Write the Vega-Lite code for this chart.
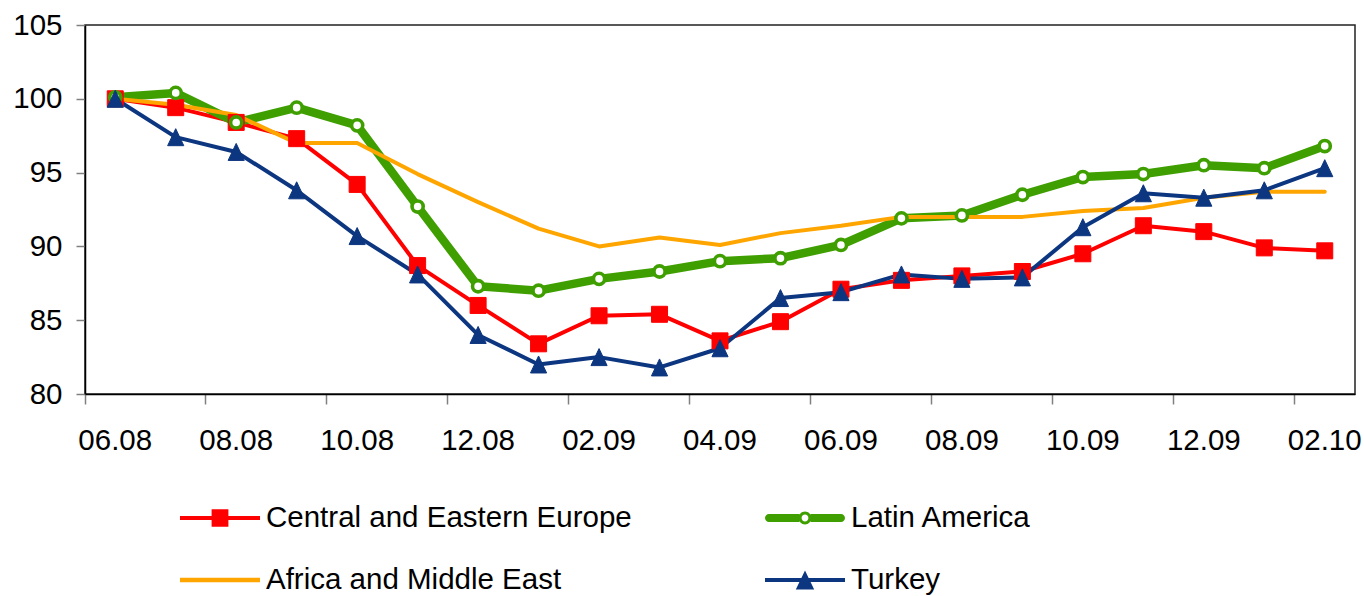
{
  "$schema": "https://vega.github.io/schema/vega-lite/v6.json",
  "width": 1270,
  "height": 369,
  "autosize": {"type": "none"},
  "padding": {"left": 85, "top": 25, "right": 9, "bottom": 202},
  "background": "white",
  "config": {
    "font": "Liberation Sans",
    "view": {"stroke": "#222222", "strokeWidth": 1.5},
    "axis": {"grid": false, "title": null, "labelColor": "#000000", "labelFontSize": 29.5, "labelFont": "Liberation Sans", "domainColor": "#000000", "domainWidth": 1.5, "tickColor": "#808080", "tickWidth": 1.5, "labelOverlap": false}
  },
  "datasets": {
    "main": [
      {"month": "06.08", "series": "Central and Eastern Europe", "value": 100.0},
      {"month": "07.08", "series": "Central and Eastern Europe", "value": 99.4},
      {"month": "08.08", "series": "Central and Eastern Europe", "value": 98.4},
      {"month": "09.08", "series": "Central and Eastern Europe", "value": 97.3},
      {"month": "10.08", "series": "Central and Eastern Europe", "value": 94.2},
      {"month": "11.08", "series": "Central and Eastern Europe", "value": 88.7},
      {"month": "12.08", "series": "Central and Eastern Europe", "value": 86.0},
      {"month": "01.09", "series": "Central and Eastern Europe", "value": 83.4},
      {"month": "02.09", "series": "Central and Eastern Europe", "value": 85.3},
      {"month": "03.09", "series": "Central and Eastern Europe", "value": 85.4},
      {"month": "04.09", "series": "Central and Eastern Europe", "value": 83.6},
      {"month": "05.09", "series": "Central and Eastern Europe", "value": 84.9},
      {"month": "06.09", "series": "Central and Eastern Europe", "value": 87.1},
      {"month": "07.09", "series": "Central and Eastern Europe", "value": 87.7},
      {"month": "08.09", "series": "Central and Eastern Europe", "value": 88.0},
      {"month": "09.09", "series": "Central and Eastern Europe", "value": 88.3},
      {"month": "10.09", "series": "Central and Eastern Europe", "value": 89.5},
      {"month": "11.09", "series": "Central and Eastern Europe", "value": 91.4},
      {"month": "12.09", "series": "Central and Eastern Europe", "value": 91.0},
      {"month": "01.10", "series": "Central and Eastern Europe", "value": 89.9},
      {"month": "02.10", "series": "Central and Eastern Europe", "value": 89.7},
      {"month": "06.08", "series": "Latin America", "value": 100.1},
      {"month": "07.08", "series": "Latin America", "value": 100.4},
      {"month": "08.08", "series": "Latin America", "value": 98.4},
      {"month": "09.08", "series": "Latin America", "value": 99.4},
      {"month": "10.08", "series": "Latin America", "value": 98.2},
      {"month": "11.08", "series": "Latin America", "value": 92.7},
      {"month": "12.08", "series": "Latin America", "value": 87.3},
      {"month": "01.09", "series": "Latin America", "value": 87.0},
      {"month": "02.09", "series": "Latin America", "value": 87.8},
      {"month": "03.09", "series": "Latin America", "value": 88.3},
      {"month": "04.09", "series": "Latin America", "value": 89.0},
      {"month": "05.09", "series": "Latin America", "value": 89.2},
      {"month": "06.09", "series": "Latin America", "value": 90.1},
      {"month": "07.09", "series": "Latin America", "value": 91.9},
      {"month": "08.09", "series": "Latin America", "value": 92.1},
      {"month": "09.09", "series": "Latin America", "value": 93.5},
      {"month": "10.09", "series": "Latin America", "value": 94.7},
      {"month": "11.09", "series": "Latin America", "value": 94.9},
      {"month": "12.09", "series": "Latin America", "value": 95.5},
      {"month": "01.10", "series": "Latin America", "value": 95.3},
      {"month": "02.10", "series": "Latin America", "value": 96.8},
      {"month": "06.08", "series": "Africa and Middle East", "value": 100.0},
      {"month": "07.08", "series": "Africa and Middle East", "value": 99.6},
      {"month": "08.08", "series": "Africa and Middle East", "value": 98.9},
      {"month": "09.08", "series": "Africa and Middle East", "value": 97.0},
      {"month": "10.08", "series": "Africa and Middle East", "value": 97.0},
      {"month": "11.08", "series": "Africa and Middle East", "value": 94.9},
      {"month": "12.08", "series": "Africa and Middle East", "value": 93.0},
      {"month": "01.09", "series": "Africa and Middle East", "value": 91.2},
      {"month": "02.09", "series": "Africa and Middle East", "value": 90.0},
      {"month": "03.09", "series": "Africa and Middle East", "value": 90.6},
      {"month": "04.09", "series": "Africa and Middle East", "value": 90.1},
      {"month": "05.09", "series": "Africa and Middle East", "value": 90.9},
      {"month": "06.09", "series": "Africa and Middle East", "value": 91.4},
      {"month": "07.09", "series": "Africa and Middle East", "value": 92.0},
      {"month": "08.09", "series": "Africa and Middle East", "value": 92.0},
      {"month": "09.09", "series": "Africa and Middle East", "value": 92.0},
      {"month": "10.09", "series": "Africa and Middle East", "value": 92.4},
      {"month": "11.09", "series": "Africa and Middle East", "value": 92.6},
      {"month": "12.09", "series": "Africa and Middle East", "value": 93.3},
      {"month": "01.10", "series": "Africa and Middle East", "value": 93.7},
      {"month": "02.10", "series": "Africa and Middle East", "value": 93.7},
      {"month": "06.08", "series": "Turkey", "value": 100.0},
      {"month": "07.08", "series": "Turkey", "value": 97.4},
      {"month": "08.08", "series": "Turkey", "value": 96.4},
      {"month": "09.08", "series": "Turkey", "value": 93.8},
      {"month": "10.08", "series": "Turkey", "value": 90.7},
      {"month": "11.08", "series": "Turkey", "value": 88.1},
      {"month": "12.08", "series": "Turkey", "value": 84.0},
      {"month": "01.09", "series": "Turkey", "value": 82.0},
      {"month": "02.09", "series": "Turkey", "value": 82.5},
      {"month": "03.09", "series": "Turkey", "value": 81.8},
      {"month": "04.09", "series": "Turkey", "value": 83.1},
      {"month": "05.09", "series": "Turkey", "value": 86.5},
      {"month": "06.09", "series": "Turkey", "value": 86.9},
      {"month": "07.09", "series": "Turkey", "value": 88.1},
      {"month": "08.09", "series": "Turkey", "value": 87.8},
      {"month": "09.09", "series": "Turkey", "value": 87.9},
      {"month": "10.09", "series": "Turkey", "value": 91.3},
      {"month": "11.09", "series": "Turkey", "value": 93.6},
      {"month": "12.09", "series": "Turkey", "value": 93.3},
      {"month": "01.10", "series": "Turkey", "value": 93.8},
      {"month": "02.10", "series": "Turkey", "value": 95.3}
    ]
  },
  "data": {"name": "main"},
  "encoding": {
    "x": {
      "field": "month", "type": "ordinal",
      "scale": {"type": "band", "paddingInner": 0, "paddingOuter": 0,
        "domain": ["06.08","07.08","08.08","09.08","10.08","11.08","12.08","01.09","02.09","03.09","04.09","05.09","06.09","07.09","08.09","09.09","10.09","11.09","12.09","01.10","02.10"]},
      "axis": {"values": ["06.08","08.08","10.08","12.08","02.09","04.09","06.09","08.09","10.09","12.09","02.10"], "labelAngle": 0, "bandPosition": 0, "tickSize": 10, "labelPadding": 22}
    },
    "y": {
      "field": "value", "type": "quantitative",
      "scale": {"domain": [80, 105], "nice": false, "zero": false},
      "axis": {"values": [80, 85, 90, 95, 100, 105], "tickSize": 9, "labelPadding": 14, "labelFlush": false}
    }
  },
  "layer": [
    {
      "mark": {"type": "line", "strokeJoin": "round", "strokeCap": "round"},
      "encoding": {
        "color": {
          "field": "series", "type": "nominal",
          "scale": {"domain": ["Central and Eastern Europe", "Africa and Middle East", "Latin America", "Turkey"], "range": ["#ff0000", "#ffa500", "#3f9f00", "#0d3680"]},
          "legend": {
            "orient": "none", "legendX": 95, "legendY": 473, "title": null, "columns": 2,
            "columnPadding": 133, "rowPadding": 22, "clipHeight": 40, "symbolSize": 6400,
            "labelFontSize": 29.5, "labelFont": "Liberation Sans", "labelColor": "#000000", "labelOffset": 6,
            "labelLimit": 1000, "padding": 0, "symbolStrokeWidth": 0, "symbolOpacity": 1,
            "encode": {
              "symbols": {
                "update": {
                  "shape": {"signal": "datum.value === 'Central and Eastern Europe' ? 'M-1,-0.05H1V0.05H-1Z M-0.21,-0.22H0.21V0.22H-0.21Z' : datum.value === 'Latin America' ? 'M-0.9,-0.1H-0.14V0.1H-0.9A0.1,0.1 0 0,1 -0.9,-0.1Z M0.14,-0.1H0.9A0.1,0.1 0 0,1 0.9,0.1H0.14Z M0.16,0A0.16,0.16 0 1,1 -0.16,0A0.16,0.16 0 1,1 0.16,0Z M0.085,0A0.085,0.085 0 1,0 -0.085,0A0.085,0.085 0 1,0 0.085,0Z' : datum.value === 'Africa and Middle East' ? 'M-1,-0.055H1V0.055H-1Z' : 'M-1,-0.05H1V0.05H-1Z M0,-0.24L0.23,0.24L-0.23,0.24Z'"},
                  "fill": {"scale": "color", "field": "value"},
                  "stroke": {"value": "transparent"},
                  "strokeWidth": {"value": 0},
                  "opacity": {"value": 1}
                }
              }
            }
          }
        },
        "strokeWidth": {"condition": {"test": "datum.series === 'Latin America'", "value": 8.5}, "value": 4}
      }
    },
    {
      "transform": [{"filter": "datum.series === 'Central and Eastern Europe'"}],
      "mark": {"type": "point", "shape": "square", "filled": true, "color": "#ff0000", "stroke": "#ff0000", "strokeWidth": 1, "size": 256, "opacity": 1}
    },
    {
      "transform": [{"filter": "datum.series === 'Latin America'"}],
      "mark": {"type": "point", "shape": "circle", "filled": false, "fill": "#ffffff", "stroke": "#3f9f00", "strokeWidth": 3.6, "size": 125, "opacity": 1, "fillOpacity": 1}
    },
    {
      "transform": [{"filter": "datum.series === 'Turkey'"}],
      "mark": {"type": "point", "shape": "M0,-1L0.95,1L-0.95,1Z", "filled": true, "color": "#0d3680", "stroke": "#0d3680", "strokeWidth": 1, "size": 289, "opacity": 1}
    }
  ]
}
